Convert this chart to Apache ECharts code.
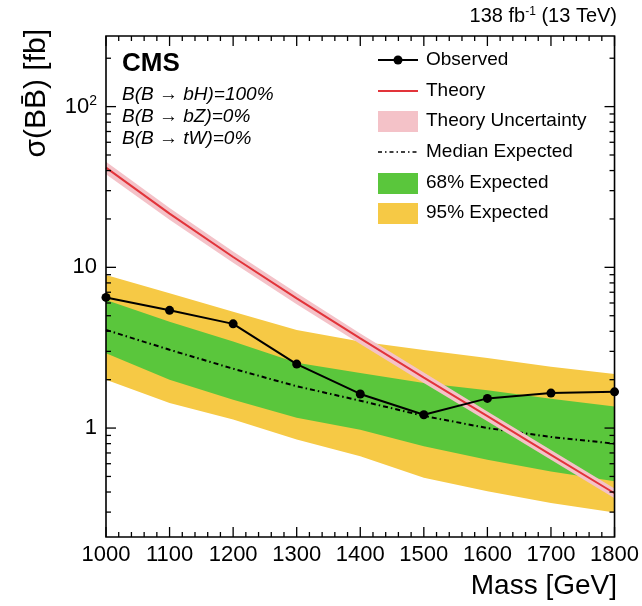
<!DOCTYPE html>
<html>
<head>
<meta charset="utf-8">
<script src="https://cdn.jsdelivr.net/npm/echarts@6/dist/echarts.min.js"></script>
<style>
  html, body { margin: 0; padding: 0; background: #fff; }
  #chart { width: 642px; height: 606px; }
</style>
</head>
<body>
<div id="chart"></div>
<script>
// Mass points (GeV)
const mass = [1000, 1100, 1200, 1300, 1400, 1500, 1600, 1700, 1800];
// Observed 95% CL upper limit (fb)
const observed = [6.5, 5.4, 4.45, 2.5, 1.63, 1.21, 1.53, 1.65, 1.68];
// Median expected limit (fb)
const expected = [4.08, 3.07, 2.34, 1.82, 1.48, 1.19, 1.0, 0.88, 0.80];
// 68% expected band
const exp68Lo = [2.92, 2.0, 1.50, 1.16, 0.976, 0.77, 0.636, 0.537, 0.466];
const exp68Hi = [6.27, 4.59, 3.45, 2.55, 2.2, 1.91, 1.72, 1.52, 1.36];
// 95% expected band
const exp95Lo = [2.0, 1.43, 1.13, 0.85, 0.667, 0.49, 0.404, 0.342, 0.298];
const exp95Hi = [8.96, 6.9, 5.3, 4.08, 3.45, 3.06, 2.73, 2.41, 2.17];
// Theory cross section (fb) and its relative uncertainty
const theory = [41.7, 21.6, 11.6, 6.41, 3.61, 2.06, 1.186, 0.682, 0.393];
const theoryRelUnc = [0.09, 0.085, 0.08, 0.08, 0.075, 0.075, 0.07, 0.07, 0.07];
// Axis ranges
const xRange = [1000, 1800];
const yRange = [0.21, 275];

const FONT = "'Liberation Sans', Arial, Helvetica, sans-serif";
const C_GREEN = '#5ac63c';
const C_YELLOW = '#f6c945';
const C_RED = '#e2343a';
const C_PINK = '#f4c2c8';

const theoryLo = theory.map((v, i) => v * (1 - theoryRelUnc[i]));
const theoryHi = theory.map((v, i) => v * (1 + theoryRelUnc[i]));

function bandSeries(lo, hi, color, z) {
  return {
    type: 'custom',
    z: z,
    clip: true,
    silent: true,
    data: mass.map((m, i) => [m, lo[i], hi[i]]),
    encode: { x: 0, y: [1, 2] },
    renderItem: function (params, api) {
      if (params.dataIndex !== 0) return null;
      const pts = [];
      for (let i = 0; i < mass.length; i++) pts.push(api.coord([mass[i], hi[i]]));
      for (let i = mass.length - 1; i >= 0; i--) pts.push(api.coord([mass[i], lo[i]]));
      return { type: 'polygon', shape: { points: pts }, style: { fill: color } };
    }
  };
}

// Frame and tick marks on all four sides
const frameSeries = {
  type: 'custom',
  z: 20,
  clip: false,
  silent: true,
  data: [[1000, 1]],
  renderItem: function (params, api) {
    const cs = params.coordSys;
    const left = cs.x, right = cs.x + cs.width, top = cs.y, bottom = cs.y + cs.height;
    const children = [];
    const ls = { stroke: '#000', lineWidth: 1.3 };
    for (let m = xRange[0]; m <= xRange[1]; m += 20) {
      const px = api.coord([m, 1])[0];
      const len = (m % 100 === 0) ? 10 : 5;
      children.push({ type: 'line', shape: { x1: px, y1: bottom, x2: px, y2: bottom - len }, style: ls });
      children.push({ type: 'line', shape: { x1: px, y1: top, x2: px, y2: top + len }, style: ls });
    }
    [0.1, 1, 10, 100].forEach(function (d) {
      for (let k = 1; k <= 9; k++) {
        const v = k * d;
        if (v < yRange[0] || v > yRange[1]) continue;
        const py = api.coord([1000, v])[1];
        const len = (k === 1) ? 10 : 5;
        children.push({ type: 'line', shape: { x1: left, y1: py, x2: left + len, y2: py }, style: ls });
        children.push({ type: 'line', shape: { x1: right, y1: py, x2: right - len, y2: py }, style: ls });
      }
    });
    children.push({ type: 'rect', shape: { x: left, y: top, width: right - left, height: bottom - top },
      style: { fill: null, stroke: '#000', lineWidth: 1.6 } });
    return { type: 'group', children: children };
  }
};

const legendX = 378, legendTextX = 426;
const legendRows = [60, 91, 121, 152, 183, 213];
const legendTexts = ['Observed', 'Theory', 'Theory Uncertainty', 'Median Expected', '68% Expected', '95% Expected'];

const graphics = [
  // luminosity / energy label
  { type: 'text', right: 642 - 617, top: 6,
    style: { text: '138 fb{s|-1} (13 TeV)', font: '20px ' + FONT, fill: '#000',
      rich: { s: { fontSize: 12, fontFamily: FONT, verticalAlign: 'top', padding: [0, 0, 8, 0] } } } },
  { type: 'text', x: 122, y: 64,
    style: { text: 'CMS', font: 'bold 26px ' + FONT, fill: '#000', textVerticalAlign: 'middle' } },
  { type: 'text', x: 122, y: 95,
    style: { text: 'B(B \u2192 bH)=100%', font: 'italic 19px ' + FONT, fill: '#000', textVerticalAlign: 'middle' } },
  { type: 'text', x: 122, y: 117,
    style: { text: 'B(B \u2192 bZ)=0%', font: 'italic 19px ' + FONT, fill: '#000', textVerticalAlign: 'middle' } },
  { type: 'text', x: 122, y: 139,
    style: { text: 'B(B \u2192 tW)=0%', font: 'italic 19px ' + FONT, fill: '#000', textVerticalAlign: 'middle' } },
  // axis titles
  { type: 'text', x: 37, y: 29, rotation: Math.PI / 2,
    style: { text: '\u03c3(BB\u0304) [fb]', font: '30px ' + FONT, fill: '#000', textAlign: 'right', textVerticalAlign: 'middle' } },
  { type: 'text', x: 617, y: 586,
    style: { text: 'Mass [GeV]', font: '28px ' + FONT, fill: '#000', textAlign: 'right', textVerticalAlign: 'middle' } },
  // legend symbols
  { type: 'line', shape: { x1: legendX, y1: legendRows[0], x2: legendX + 40, y2: legendRows[0] }, style: { stroke: '#000', lineWidth: 2 } },
  { type: 'circle', shape: { cx: legendX + 20, cy: legendRows[0], r: 4.5 }, style: { fill: '#000' } },
  { type: 'line', shape: { x1: legendX, y1: legendRows[1], x2: legendX + 40, y2: legendRows[1] }, style: { stroke: C_RED, lineWidth: 2 } },
  { type: 'rect', shape: { x: legendX, y: legendRows[2] - 10, width: 40, height: 21 }, style: { fill: C_PINK } },
  { type: 'line', shape: { x1: legendX, y1: legendRows[3], x2: legendX + 40, y2: legendRows[3] }, style: { stroke: '#000', lineWidth: 1.5, lineDash: [4, 3, 1.5, 3] } },
  { type: 'rect', shape: { x: legendX, y: legendRows[4] - 10, width: 40, height: 21 }, style: { fill: C_GREEN } },
  { type: 'rect', shape: { x: legendX, y: legendRows[5] - 10, width: 40, height: 21 }, style: { fill: C_YELLOW } }
];
legendTexts.forEach(function (t, i) {
  graphics.push({ type: 'text', x: legendTextX, y: legendRows[i],
    style: { text: t, font: '19px ' + FONT, fill: '#000', textVerticalAlign: 'middle' } });
});

const chart = echarts.init(document.getElementById('chart'), null, { renderer: 'canvas' });
chart.setOption({
  animation: false,
  backgroundColor: '#fff',
  grid: { left: 106, right: 25, top: 36, bottom: 69, containLabel: false },
  xAxis: {
    type: 'value', min: xRange[0], max: xRange[1], interval: 100,
    axisLine: { show: false }, axisTick: { show: false }, splitLine: { show: false },
    axisLabel: { color: '#000', fontSize: 22, fontFamily: FONT, margin: 7,
      formatter: function (v) { return String(v); } }
  },
  yAxis: {
    type: 'log', logBase: 10, min: yRange[0], max: yRange[1],
    axisLine: { show: false }, axisTick: { show: false }, splitLine: { show: false },
    axisLabel: {
      color: '#000', fontSize: 22, fontFamily: FONT, margin: 9,
      formatter: function (v) {
        const l = Math.log10(v);
        if (Math.abs(l - Math.round(l)) > 1e-6) return '';
        const p = Math.round(l);
        if (p === 0) return '1';
        if (p === 1) return '10';
        return '10{s|' + p + '}';
      },
      rich: { s: { fontSize: 14, fontFamily: FONT, color: '#000', verticalAlign: 'top', padding: [0, 0, 10, 0] } }
    }
  },
  graphic: graphics,
  series: [
    bandSeries(exp95Lo, exp95Hi, C_YELLOW, 1),
    bandSeries(exp68Lo, exp68Hi, C_GREEN, 2),
    {
      type: 'line', z: 3, data: mass.map((m, i) => [m, expected[i]]),
      showSymbol: false, symbol: 'none',
      lineStyle: { color: '#000', width: 2, type: [5, 3, 1.5, 3] }
    },
    bandSeries(theoryLo, theoryHi, C_PINK, 4),
    {
      type: 'line', z: 5, data: mass.map((m, i) => [m, theory[i]]),
      showSymbol: false, symbol: 'none',
      lineStyle: { color: C_RED, width: 2 }
    },
    {
      type: 'line', z: 6, data: mass.map((m, i) => [m, observed[i]]),
      symbol: 'circle', symbolSize: 9,
      itemStyle: { color: '#000' },
      lineStyle: { color: '#000', width: 2 }
    },
    frameSeries
  ]
});
</script>
</body>
</html>
